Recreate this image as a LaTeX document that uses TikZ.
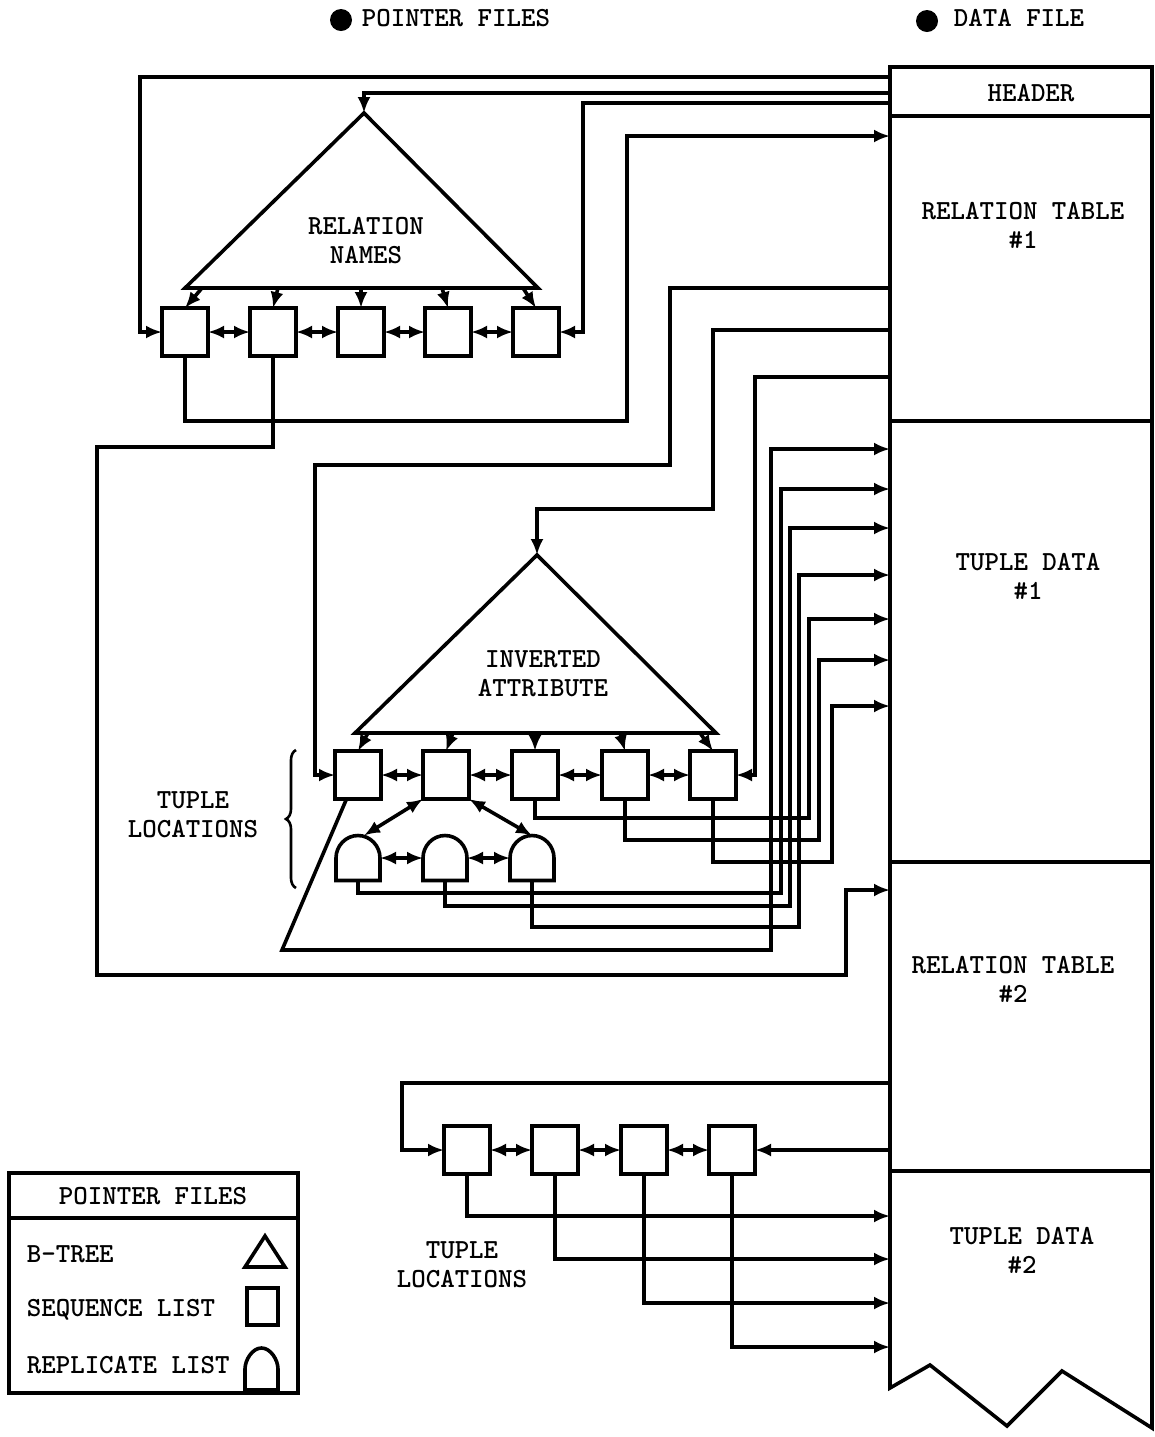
\documentclass[tikz,border=0pt]{standalone}
\usepackage{fontspec}
\usetikzlibrary{arrows.meta,calc,decorations.pathreplacing}
\tikzset{
  sq/.style={draw, rectangle, minimum width=23pt, minimum height=24pt, inner sep=0pt, outer sep=0pt},
  rep/.style={rectangle, minimum width=22pt, minimum height=22.5pt, inner sep=0pt, outer sep=0pt},
  sect/.style={draw, rectangle, minimum width=131pt, inner sep=0pt, outer sep=0pt, anchor=north west},
  lbl/.style={font=\ttfamily\bfseries\fontsize{13.8}{14.5}\selectfont, align=center, inner sep=0pt},
  blob/.style={circle, fill, minimum size=11pt, inner sep=0pt},
  arr/.style={->},
  darr/.style={<->},
  bracestyle/.style={decorate, decoration={brace, amplitude=5pt}, line width=1.3pt}
}
\newcommand\drawrep[2]{\draw (#1.south west) -- (#1.west) .. controls ($(#1.west)+(0,-#2)$) and ($(#1.north)+(-#2,0)$) .. (#1.north) .. controls ($(#1.north)+(#2,0)$) and ($(#1.east)+(0,-#2)$) .. (#1.east) -- (#1.south east) -- cycle;}
\begin{document}
\begin{tikzpicture}[x=0.5pt, y=-0.5pt, line width=1.8pt, >={Latex[length=8pt,width=6.5pt]}]
\useasboundingbox (0,0) rectangle (1155,1437);

% ---- top titles
\node[blob] (pdot) at (341,20) {};
\node[lbl, anchor=west] (ptitle) at (360,18) {POINTER FILES};
\node[blob] (ddot) at (927,21) {};
\node[lbl, anchor=west] (dtitle) at (952,18) {DATA FILE};

% ---- data file
\node[sect, minimum height=24.5pt] (hdr) at (890,67) {};
\node[sect, minimum height=152.5pt] (rt1) at (890,116) {};
\node[sect, minimum height=220.5pt] (td1) at (890,421) {};
\node[sect, minimum height=154.5pt] (rt2) at (890,862) {};
\node[sect, draw=none, minimum height=108.5pt] (td2) at (890,1171) {};
\draw (td2.north west) -- (td2.south west) -- (930,1365) -- (1007,1426) -- (1062,1371) -- (1152,1428) -- (td2.north east);
\node[lbl] (thdr) at (1031,93) {HEADER};
\node[lbl] (trt1) at (1023,225) {RELATION TABLE\\\#1};
\node[lbl] (ttd1) at (1028,576) {TUPLE DATA\\\#1};
\node[lbl] (trt2) at (1013,979) {RELATION TABLE\\\#2};
\node[lbl] (ttd2) at (1022,1250) {TUPLE DATA\\\#2};

% ---- relation names b-tree
\coordinate (rnA) at (364,113);
\coordinate (rnL) at (185,288);
\coordinate (rnR) at (538,288);
\draw (rnA) -- (rnL) -- (rnR) -- cycle;
\node[lbl] (rnT) at (366,241) {RELATION\\NAMES};
\foreach \i/\x in {1/185,2/273,3/361,4/448,5/536} \node[sq] (s\i) at (\x,332) {};
\foreach \i/\x in {1/202,2/278,3/361,4/442,5/523} {
  \coordinate (rb\i) at (\x,288);
  \draw[arr] (rb\i) -- (s\i.north);
}
\foreach \a/\b in {1/2,2/3,3/4,4/5} \draw[darr] (s\a.east) -- (s\b.west);

\draw[arr] (hdr.west |- 0,77) -- (140,77) |- (s1.west);
\draw[arr] (hdr.west |- 0,93) -| (rnA);
\draw[arr] (hdr.west |- 0,103) -- (583,103) |- (s5.east);
\draw[arr] (s1.south) |- (627,421) |- (rt1.west |- 0,136);
\draw[arr] (s2.south) |- (97,447) |- (846,975) |- (rt2.west |- 0,890);

% ---- inverted attribute b-tree
\coordinate (iaA) at (537,555);
\coordinate (iaL) at (355,733);
\coordinate (iaR) at (716,733);
\draw (iaA) -- (iaL) -- (iaR) -- cycle;
\node[lbl] (iaT) at (543,674) {INVERTED\\ATTRIBUTE};
\foreach \i/\x in {1/358,2/446,3/535,4/625,5/713} \node[sq] (ia\i) at (\x,775) {};
\foreach \i/\x in {1/368,2/453,3/535,4/620,5/700} {
  \coordinate (ib\i) at (\x,733);
  \draw[arr] (ib\i) -- (ia\i.north);
}
\foreach \a/\b in {1/2,2/3,3/4,4/5} \draw[darr] (ia\a.east) -- (ia\b.west);

% replicate lists
\node[rep] (r1) at (358,858) {};
\node[rep] (r2) at (445,858) {};
\node[rep] (r3) at (532,858) {};
\drawrep{r1}{12.2}
\drawrep{r2}{12.2}
\drawrep{r3}{12.2}
\draw[darr] (r1.east) -- (r2.west);
\draw[darr] (r2.east) -- (r3.west);
\draw[darr] (ia2.south west) -- ($(r1.north)+(6,0)$);
\draw[darr] (ia2.south east) -- (r3.north);

\draw[arr] (rt1.west |- 0,288) -- (670,288) |- (315,465) |- (ia1.west);
\draw[arr] (rt1.west |- 0,330) -- (713,330) |- (537,509) -- (iaA);
\draw[arr] (rt1.west |- 0,377) -- (755,377) |- (ia5.east);

\draw[arr] ($(ia1.south west)!0.25!(ia1.south east)$) -- (282,950) -| (771,449) -- (td1.west |- 0,449);
\draw[arr] (r1.south) |- (781,893) |- (td1.west |- 0,489);
\draw[arr] (r2.south) |- (790,906) |- (td1.west |- 0,528);
\draw[arr] (r3.south) |- (799,927) |- (td1.west |- 0,575);
\draw[arr] (ia3.south) |- (809,818) |- (td1.west |- 0,619);
\draw[arr] (ia4.south) |- (819,840) |- (td1.west |- 0,660);
\draw[arr] (ia5.south) |- (832,862) |- (td1.west |- 0,706);

\draw[bracestyle] (296,888) -- (296,750);
\node[lbl] (tl1) at (193,815) {TUPLE\\LOCATIONS};

% ---- relation 2 sequence list
\foreach \i/\x in {1/467,2/555,3/644,4/732} \node[sq] (b\i) at (\x,1150) {};
\foreach \a/\b in {1/2,2/3,3/4} \draw[darr] (b\a.east) -- (b\b.west);
\draw[arr] (rt2.west |- 0,1083) -- (402,1083) |- (b1.west);
\draw[arr] (rt2.west |- b4.east) -- (b4.east);
\draw[arr] (b1.south) |- (td2.west |- 0,1216);
\draw[arr] (b2.south) |- (td2.west |- 0,1259);
\draw[arr] (b3.south) |- (td2.west |- 0,1303);
\draw[arr] (b4.south) |- (td2.west |- 0,1347);
\node[lbl] (tl2) at (462,1265) {TUPLE\\LOCATIONS};

% ---- legend
\node[draw, rectangle, minimum width=144.5pt, minimum height=110pt, inner sep=0pt, outer sep=0pt, anchor=north west] (leg) at (9,1173) {};
\draw (leg.west |- 0,1218) -- (leg.east |- 0,1218);
\node[lbl] (legT) at (153,1196) {POINTER FILES};
\node[lbl, anchor=west] (legB) at (25,1254) {B-TREE};
\node[lbl, anchor=west] (legS) at (25,1310) {SEQUENCE LIST};
\node[lbl, anchor=west] (legR) at (25,1365) {REPLICATE LIST};
\coordinate (ltA) at (265,1236);
\coordinate (ltL) at (245,1267);
\coordinate (ltR) at (285,1267);
\draw (ltA) -- (ltL) -- (ltR) -- cycle;
\node[sq, minimum width=15.5pt, minimum height=18.5pt] (legsq) at (262.5,1306.5) {};
\node[rep, minimum width=16.5pt, minimum height=21pt] (legrep) at (261.5,1369) {};
\drawrep{legrep}{9.1}
\end{tikzpicture}
\end{document}
